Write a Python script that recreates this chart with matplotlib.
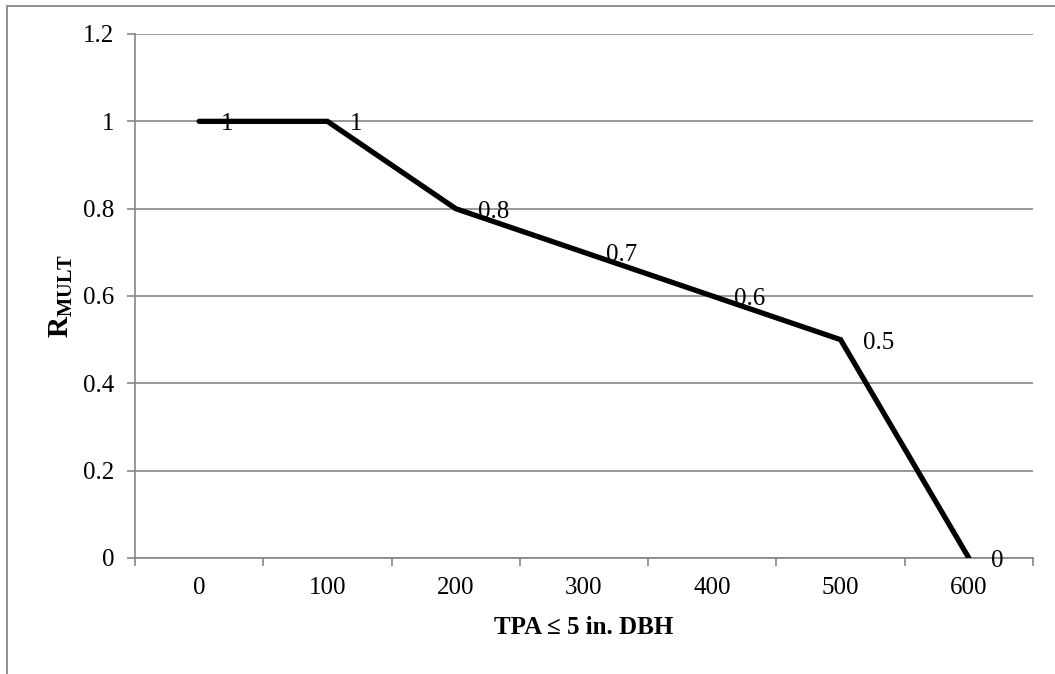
import numpy as np
import matplotlib.pyplot as plt
from matplotlib.patches import Rectangle

# data
tpa = ["0", "100", "200", "300", "400", "500", "600"]
rmult = [1, 1, 0.8, 0.7, 0.6, 0.5, 0]
data_labels = ["1", "1", "0.8", "0.7", "0.6", "0.5", "0"]
y_ticks = [0, 0.2, 0.4, 0.6, 0.8, 1, 1.2]
y_tick_labels = ["0", "0.2", "0.4", "0.6", "0.8", "1", "1.2"]

plt.rcParams['font.family'] = ['Liberation Serif', 'DejaVu Serif']
plt.rcParams['mathtext.fontset'] = 'custom'
plt.rcParams['mathtext.rm'] = 'Liberation Serif'
plt.rcParams['mathtext.bf'] = 'Liberation Serif:bold'
grey = '#868686'
fs = 18

fig = plt.figure(figsize=(10.55, 6.74), dpi=100)
ax = fig.add_axes([135 / 1055, 1 - 558 / 674, (1033 - 135) / 1055, (558 - 34) / 674])

# outer chart border (left and top visible)
fig.add_artist(Rectangle((7 / 1055, -0.1), 1.2, 1.1 - 6 / 674,
                         transform=fig.transFigure, fill=False,
                         edgecolor=grey, linewidth=1.3))

x = np.arange(len(tpa))
ax.plot(x, rmult, color='black', linewidth=3.8, solid_capstyle='round',
        solid_joinstyle='miter', zorder=3)

for xi, yi, lab in zip(x, rmult, data_labels):
    ax.annotate(lab, (xi, yi), xytext=(22, -3), textcoords='offset pixels',
                ha='left', va='center', fontsize=fs, zorder=4)

ax.set_xlim(-0.5, len(tpa) - 0.5)
ax.set_ylim(0, 1.2)
ax.set_yticks(y_ticks)
ax.set_yticklabels(y_tick_labels, fontsize=fs)
ax.set_xticks(x)
ax.set_xticklabels(tpa, fontsize=fs)
ax.set_xticks(np.arange(-0.5, len(tpa)), minor=True)
ax.tick_params(axis='x', which='major', length=0, pad=14)
ax.tick_params(axis='x', which='minor', length=6, color=grey, width=1.2)
ax.tick_params(axis='y', length=6, color=grey, width=1.2, pad=9)

ax.grid(axis='y', color=grey, linewidth=1.2)
ax.set_axisbelow(True)
for side in ['top', 'right']:
    ax.spines[side].set_visible(False)
for side in ['left', 'bottom']:
    ax.spines[side].set_color(grey)
    ax.spines[side].set_linewidth(1.2)

ax.set_xlabel("TPA ≤ 5 in. DBH", fontsize=fs, fontweight='bold', labelpad=12)
ax.set_ylabel(r"$\mathbf{R_{MULT}}$", fontsize=21, labelpad=6)

fig.savefig("out.png", dpi=100)
